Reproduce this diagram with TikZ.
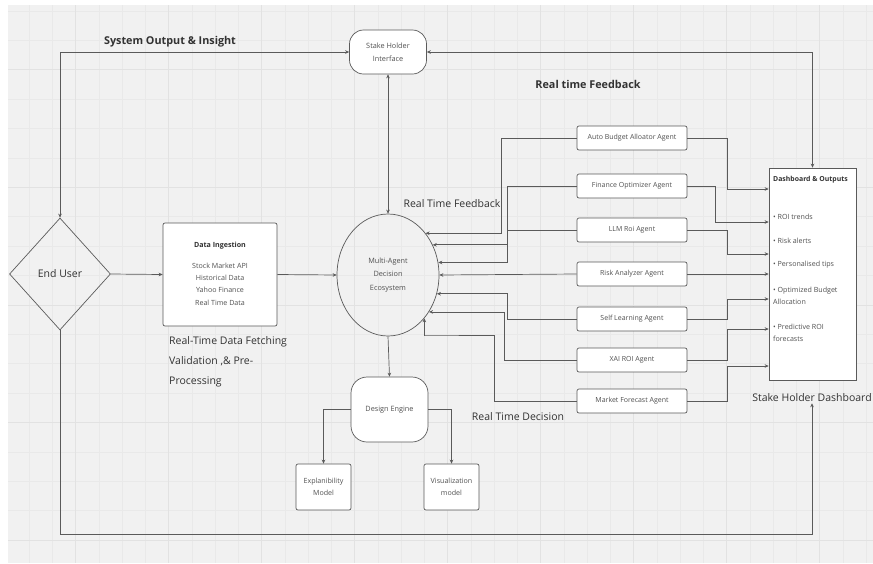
\documentclass[tikz,border=0pt]{standalone}
\usepackage{fontspec}
\setmainfont{Open Sans}
\usetikzlibrary{shapes.geometric,arrows.meta}
\definecolor{bgc}{RGB}{241,241,241}
\definecolor{gridminor}{RGB}{233,233,233}
\definecolor{gridmajor}{RGB}{226,226,226}
\definecolor{linec}{RGB}{90,90,90}
\definecolor{boxtext}{RGB}{80,80,80}
\definecolor{labeltext}{RGB}{50,50,50}
\tikzset{
  box/.style={draw=linec, line width=0.7pt, fill=white, rounded corners=2pt, align=center, text=boxtext, inner sep=0pt, font=\fontsize{7}{12}\selectfont},
  agentbox/.style={box, minimum width=110pt, minimum height=24pt},
  smallbox/.style={box, minimum width=55pt, minimum height=46pt, font=\fontsize{7.1}{12}\selectfont},
  roundbox/.style={draw=linec, line width=0.7pt, fill=white, align=center, text=boxtext, inner sep=0pt, font=\fontsize{7.3}{13}\selectfont},
  biglabel/.style={text=labeltext, inner sep=1pt, font=\fontsize{10.5}{20}\selectfont},
  boldlabel/.style={text=labeltext, inner sep=1pt, font=\bfseries\fontsize{10.8}{12}\selectfont},
  dashitem/.style={anchor=west, text=boxtext, inner sep=0pt, align=left, font=\fontsize{7.1}{12}\selectfont},
  conn/.style={draw=linec, line width=0.7pt},
  arr/.style={conn, -{Stealth[length=4pt,width=3.6pt]}},
  arrboth/.style={conn, {Stealth[length=4pt,width=3.6pt]}-{Stealth[length=4pt,width=3.6pt]}},
}
\begin{document}
\begin{tikzpicture}[x=1pt,y=-1pt]
\useasboundingbox (0,0) rectangle (873,563);
% background and grid
\fill[white] (0,0) rectangle (873,563);
\fill[bgc] (8,5) rectangle (873,563);
\foreach \i in {0,...,36} {\draw[gridminor, line width=0.5pt] ({29+23.25*\i},5) -- ({29+23.25*\i},563);}
\foreach \i in {0,...,18} {\draw[gridminor, line width=0.5pt] (8,{10.8+29.4*\i}) -- (873,{10.8+29.4*\i});}
\foreach \i in {0,...,8} {\draw[gridmajor, line width=0.6pt] ({75.5+93*\i},5) -- ({75.5+93*\i},563);}
\foreach \i in {0,...,4} {\draw[gridmajor, line width=0.6pt] (8,{69.6+117.6*\i}) -- (873,{69.6+117.6*\i});}

% main nodes
\node[roundbox, rounded corners=14pt, minimum width=77pt, minimum height=44pt] (shi) at (388,52) {Stake Holder\\Interface};
\node[draw=linec, line width=0.7pt, ellipse, minimum width=102pt, minimum height=122pt, inner sep=0pt, align=center, text=boxtext, font=\fontsize{7.3}{13.5}\selectfont] (madec) at (388,275) {Multi-Agent\\Decision\\Ecosystem};
\node[draw=linec, line width=0.7pt, diamond, minimum width=101pt, minimum height=112pt, inner sep=0pt, text=labeltext, font=\fontsize{10.5}{12}\selectfont] (eu) at (60,274) {End User};
\node[box, minimum width=114pt, minimum height=103pt] (di) at (220,274.5) {};
\node[anchor=base, text=labeltext, inner sep=0pt, font=\bfseries\fontsize{7.1}{12}\selectfont] (dititle) at (220,247.5) {Data Ingestion};
\node[anchor=north, align=center, text=boxtext, inner sep=0pt, font=\fontsize{7.1}{12.3}\selectfont] (dilist) at (220,262.5) {Stock Market API\\Historical Data\\Yahoo Finance\\Real Time Data};
\node[roundbox, rounded corners=16pt, minimum width=77pt, minimum height=65pt] (de) at (389.5,409.5) {Design Engine};
\node[smallbox] (ex) at (323.5,487) {Explanibility\\Model};
\node[smallbox] (vis) at (451.5,487) {Visualization\\model};

% agents
\node[agentbox] (ab) at (632,138) {Auto Budget Alloator Agent};
\node[agentbox] (fo) at (632,186) {Finance Optimizer Agent};
\node[agentbox] (llm) at (632,230) {LLM Roi Agent};
\node[agentbox] (ra) at (632,274) {Risk Analyzer Agent};
\node[agentbox] (sl) at (632,319) {Self Learning Agent};
\node[agentbox] (xai) at (632,360) {XAI ROI Agent};
\node[agentbox] (mf) at (632,401) {Market Forecast Agent};

% dashboard
\node[draw=linec, line width=0.7pt, fill=white, minimum width=87pt, minimum height=212pt, inner sep=0pt] (dash) at (812.5,274) {};
\node[dashitem, font=\bfseries\fontsize{6.9}{12}\selectfont, text=labeltext] (dtitle) at (773,180) {Dashboard \& Outputs};
\node[dashitem] (d1) at (773,217) {• ROI trends};
\node[dashitem] (d2) at (773,241) {• Risk alerts};
\node[dashitem] (d3) at (773,265) {• Personalised tips};
\node[dashitem] (d4) at (773,296) {• Optimized Budget\\Allocation};
\node[dashitem] (d5) at (773,332.5) {• Predictive ROI\\forecasts};

% labels
\node[boldlabel] (sysout) at (170,42) {System Output \& Insight};
\node[boldlabel] (rtfb) at (588,84) {Real time Feedback};
\node[biglabel] (rtf) at (452,204) {Real Time Feedback};
\node[biglabel, anchor=north west, align=left, inner sep=0pt] (rtfetch) at (169,336) {Real-Time Data Fetching\\Validation ,\& Pre-\\Processing};
\node[biglabel] (rtd) at (518,417) {Real Time Decision};
\node[biglabel] (shd) at (812,398) {Stake Holder Dashboard};

% connectors
\draw[arrboth] (shi.west) -| (eu.north);
\draw[arrboth] (shi.east) -| (dash.north);
\draw[arrboth] (shi.south) -- (madec.north);
\draw[arr] (eu.east) -- (di.west);
\draw[arr] (di.east) -- (madec.west);
\draw[arr] (madec.south) -- (de.north);
\draw[arr] (de.west) -| (ex.north);
\draw[arr] (de.east) -| (vis.north);
\draw[arr] (eu.south) -- (60,534) -| (shd.south);

% agents to ecosystem
\draw[arr] (ab.west) -- ++(-75,0) |- (madec.48.6);
\draw[arr] (fo.west) -- ++(-69,0) |- (madec.34.0);
\draw[arr] (llm.west) -- ++(-69,0) |- (madec.14.6);
\draw[arr] (ra.west) -- (madec.east);
\draw[arr] (sl.west) -- ++(-69,0) |- (madec.-21.4);
\draw[arr] (xai.west) -- ++(-72,0) |- (madec.-42.4);
\draw[arr] (mf.west) -- ++(-82,0) |- (424,335) -| (madec.-50.2);

% agents to dashboard
\draw[arr] (ab.east) -- ++(40,0) |- ([yshift=85pt]dash.west);
\draw[arr] (fo.east) -- ++(28,0) |- ([yshift=52pt]dash.west);
\draw[arr] (llm.east) -- ++(40,0) |- ([yshift=20pt]dash.west);
\draw[arr] (ra.east) -- (dash.west);
\draw[arr] (sl.east) -- ++(40,0) |- ([yshift=-25pt]dash.west);
\draw[arr] (xai.east) -- ++(40,0) |- ([yshift=-55pt]dash.west);
\draw[arr] (mf.east) -- ++(40,0) |- ([yshift=-92pt]dash.west);
\end{tikzpicture}
\end{document}
